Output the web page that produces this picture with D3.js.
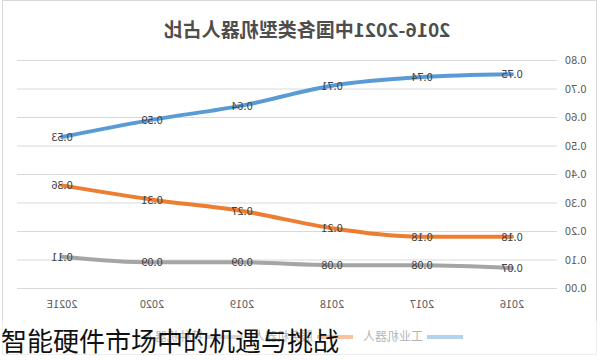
<!DOCTYPE html>
<html><head><meta charset="utf-8">
<script src="https://cdn.jsdelivr.net/npm/d3@7/dist/d3.min.js"></script>
<style>body{margin:0;background:#fff}svg{display:block}</style>
</head><body>
<svg id="c" width="600" height="360"></svg>
<script>
const categories = ["2016","2017","2018","2019","2020","2021E"];
const industrial = [0.75,0.74,0.71,0.64,0.59,0.53];
const service = [0.18,0.18,0.21,0.27,0.31,0.36];
const special = [0.07,0.08,0.08,0.09,0.09,0.11];
const seriesNames = ["工业机器人","服务机器人","特种机器人"];
const yTicks = [0,0.1,0.2,0.3,0.4,0.5,0.6,0.7,0.8];
const title = "2016-2021中国各类型机器人占比";
const caption = "智能硬件市场中的机遇与挑战";

const colors = ["#5b9bd5","#ed7d31","#a5a5a5"];
const font = "'Noto Sans CJK SC','Noto Sans',sans-serif";
const svg = d3.select("#c");
svg.append("rect").attr("x",0).attr("y",0).attr("width",600).attr("height",360).attr("fill","#fff");

// mirrored chart group (reference is horizontally flipped)
const g = svg.append("g").attr("transform","translate(600,0) scale(-1,1)");
g.append("rect").attr("x",3.5).attr("y",0.5).attr("width",594).attr("height",354)
  .attr("fill","#fff").attr("stroke","#d9d9d9");

const x = d3.scaleBand().domain(categories).range([43,583]).padding(0);
const y = d3.scaleLinear().domain([0,0.8]).range([288,60]);

// gridlines
g.append("g").selectAll("line").data(yTicks).join("line")
  .attr("x1",43).attr("x2",583).attr("y1",d=>y(d)+0.5).attr("y2",d=>y(d)+0.5)
  .attr("stroke","#d9d9d9").attr("stroke-width",1);

// y axis
const yAx = g.append("g").attr("transform","translate(43,0)")
  .call(d3.axisLeft(y).tickValues(yTicks).tickFormat(d3.format(".2f")).tickSize(0).tickPadding(8));
yAx.select(".domain").remove();
yAx.selectAll("text").attr("fill","#595959").style("font-size","11px").style("font-family",font);

// x axis
const xAx = g.append("g").attr("transform","translate(0,288)")
  .call(d3.axisBottom(x).tickSize(0).tickPadding(12));
xAx.select(".domain").remove();
xAx.selectAll("text").attr("fill","#595959").style("font-size","11px").style("font-family",font);

// title
g.append("text").attr("x",293).attr("y",37).attr("text-anchor","middle")
  .attr("fill","#4d4d4d").style("font-size","19px").style("font-weight","bold")
  .style("font-family",font).text(title);

const data = [industrial, service, special];
const line = d3.line().x((d,i)=>x(categories[i])+x.bandwidth()/2).y(d=>y(d)).curve(d3.curveMonotoneX);
data.forEach((s,k)=>{
  g.append("path").datum(s).attr("d",line).attr("fill","none")
    .attr("stroke",colors[k]).attr("stroke-width",4).attr("stroke-linecap","round");
});
data.forEach((s,k)=>{
  g.append("g").selectAll("text").data(s).join("text")
    .attr("x",(d,i)=>x(categories[i])+x.bandwidth()/2)
    .attr("y",d=>y(d)+4)
    .attr("text-anchor","middle").attr("fill","#404040")
    .style("font-size","11px").style("font-family",font)
    .text(d=>d3.format(".2f")(d));
});

// legend
const legend = g.append("g").attr("transform","translate(137,337)");
let lx = 0;
seriesNames.forEach((n,k)=>{
  legend.append("line").attr("x1",lx).attr("x2",lx+36).attr("y1",0).attr("y2",0)
    .attr("stroke",colors[k]).attr("stroke-width",4);
  legend.append("text").attr("x",lx+40).attr("y",4).attr("fill","#595959")
    .style("font-size","12px").style("font-family",font).text(n);
  lx += 110;
});

// faded overlay over the bottom strip
svg.append("rect").attr("x",0).attr("y",321).attr("width",600).attr("height",39)
  .attr("fill","#fff").attr("opacity",0.55);

// caption (not mirrored)
svg.append("text").attr("x",1).attr("y",351).attr("fill","#111")
  .style("font-size","26px").style("font-family",font).text(caption);
</script>
</body></html>
